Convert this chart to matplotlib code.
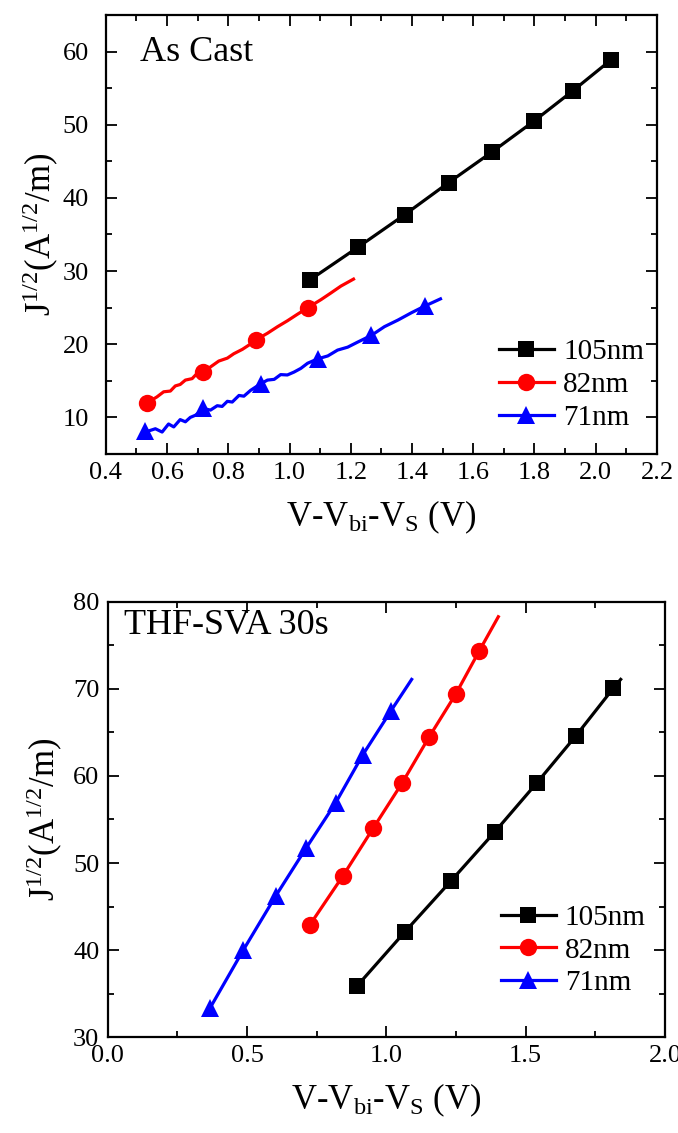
import matplotlib
matplotlib.use("Agg")
import matplotlib.pyplot as plt
from matplotlib.lines import Line2D
from matplotlib.ticker import MultipleLocator

plt.rcParams['font.family'] = ['Liberation Serif', 'DejaVu Serif']
plt.rcParams['mathtext.fontset'] = 'custom'
plt.rcParams['mathtext.rm'] = 'Liberation Serif'
plt.rcParams['mathtext.it'] = 'Liberation Serif'

labels = ['105nm', '82nm', '71nm']
colors = ['black', 'red', 'blue']
markers = ['s', 'o', '^']

# ---------------- Top panel: As Cast ----------------
top_105_x = [1.067, 1.225, 1.376, 1.520, 1.662, 1.797, 1.926, 2.051]
top_105_y = [28.8, 33.3, 37.7, 42.1, 46.3, 50.45, 54.66, 58.9]

top_82_line_x = [0.534, 0.567, 0.589, 0.611, 0.627, 0.643, 0.660, 0.682, 0.698, 0.717,
                 0.742, 0.769, 0.797, 0.818, 0.846, 0.868, 0.892, 0.928, 0.961, 0.993,
                 1.026, 1.059, 1.103, 1.135, 1.168, 1.209]
top_82_line_y = [11.96, 12.8, 13.5, 13.6, 14.3, 14.5, 15.1, 15.3, 16.0, 16.2,
                 16.9, 17.7, 18.1, 18.7, 19.3, 19.9, 20.64, 21.5, 22.4, 23.2,
                 24.1, 24.97, 26.1, 27.0, 27.95, 28.9]
top_82_mark_x = [0.534, 0.717, 0.892, 1.059]
top_82_mark_y = [11.96, 16.2, 20.64, 24.97]

top_71_line_x = [0.529, 0.562, 0.584, 0.605, 0.622, 0.643, 0.660, 0.676, 0.693, 0.720,
                 0.742, 0.764, 0.780, 0.797, 0.813, 0.835, 0.851, 0.873, 0.906, 0.928,
                 0.950, 0.971, 0.993, 1.015, 1.037, 1.059, 1.092, 1.125, 1.157, 1.190,
                 1.223, 1.267, 1.310, 1.354, 1.398, 1.441, 1.493]
top_71_line_y = [8.0, 8.45, 8.0, 9.1, 8.7, 9.7, 9.4, 10.0, 10.3, 11.2,
                 11.0, 11.6, 11.5, 12.2, 12.1, 13.0, 12.9, 13.7, 14.6, 15.1,
                 15.2, 15.85, 15.8, 16.2, 16.7, 17.4, 18.0, 18.4, 19.2, 19.6,
                 20.3, 21.2, 22.4, 23.3, 24.3, 25.2, 26.2]
top_71_mark_x = [0.529, 0.717, 0.906, 1.092, 1.267, 1.441]
top_71_mark_y = [8.1, 11.3, 14.5, 18.0, 21.3, 25.2]

# ---------------- Bottom panel: THF-SVA 30s ----------------
bot_105_mark_x = [0.896, 1.067, 1.231, 1.390, 1.540, 1.680, 1.815]
bot_105_mark_y = [35.9, 42.1, 47.9, 53.6, 59.2, 64.6, 70.1]
bot_105_line_x = [0.896, 1.067, 1.231, 1.390, 1.540, 1.680, 1.815, 1.841]
bot_105_line_y = [35.9, 42.1, 47.9, 53.6, 59.2, 64.6, 70.1, 71.1]

bot_82_mark_x = [0.726, 0.844, 0.953, 1.057, 1.153, 1.249, 1.334]
bot_82_mark_y = [42.9, 48.5, 54.0, 59.2, 64.45, 69.4, 74.4]
bot_82_line_x = [0.726, 0.844, 0.953, 1.057, 1.153, 1.249, 1.334, 1.402]
bot_82_line_y = [42.9, 48.5, 54.0, 59.2, 64.45, 69.4, 74.4, 78.3]

bot_71_mark_x = [0.367, 0.487, 0.603, 0.712, 0.818, 0.915, 1.017]
bot_71_mark_y = [33.3, 40.0, 46.2, 51.7, 56.9, 62.4, 67.5]
bot_71_line_x = [0.367, 0.487, 0.603, 0.712, 0.818, 0.915, 1.017, 1.091]
bot_71_line_y = [33.3, 40.0, 46.2, 51.7, 56.9, 62.4, 67.5, 71.1]

msizes = {'s': 11, 'o': 12.5, '^': 13.5}
LW = 2.3

fig = plt.figure(figsize=(6.78, 11.33), dpi=100)
ax1 = fig.add_axes([0.156, 0.5993, 0.813, 0.3875])
ax2 = fig.add_axes([0.1587, 0.0847, 0.8221, 0.384])


def style_axes(ax, ypad):
    for s in ax.spines.values():
        s.set_linewidth(1.6)
    ax.tick_params(which='both', direction='in', top=True, right=True,
                   labelsize=19, width=1.3)
    ax.tick_params(axis='x', which='both', pad=6)
    ax.tick_params(axis='y', which='both', pad=ypad)
    ax.tick_params(which='major', length=8)
    ax.tick_params(which='minor', length=4)


def draw(ax, lx, ly, mx, my, c, m, clip=True):
    ax.plot(lx, ly, color=c, lw=LW, clip_on=clip, solid_joinstyle='round')
    ax.plot(mx, my, linestyle='none', marker=m, color=c, ms=msizes[m],
            markeredgewidth=0, clip_on=clip)


# top
draw(ax1, top_105_x, top_105_y, top_105_x, top_105_y, 'black', 's')
draw(ax1, top_82_line_x, top_82_line_y, top_82_mark_x, top_82_mark_y, 'red', 'o')
draw(ax1, top_71_line_x, top_71_line_y, top_71_mark_x, top_71_mark_y, 'blue', '^')
ax1.set_xlim(0.4, 2.2)
ax1.set_ylim(5, 65)
ax1.xaxis.set_minor_locator(MultipleLocator(0.1))
ax1.yaxis.set_minor_locator(MultipleLocator(5))
ax1.set_xticks([0.4, 0.6, 0.8, 1.0, 1.2, 1.4, 1.6, 1.8, 2.0, 2.2])
ax1.set_xticklabels(['0.4', '0.6', '0.8', '1.0', '1.2', '1.4', '1.6', '1.8', '2.0', '2.2'])
ax1.set_yticks([10, 20, 30, 40, 50, 60])
style_axes(ax1, 12)
ax1.text(0.063, 0.914, 'As Cast', transform=ax1.transAxes, fontsize=26,
         ha='left', va='center')

# bottom
draw(ax2, bot_105_line_x, bot_105_line_y, bot_105_mark_x, bot_105_mark_y, 'black', 's')
draw(ax2, bot_82_line_x, bot_82_line_y, bot_82_mark_x, bot_82_mark_y, 'red', 'o', clip=False)
draw(ax2, bot_71_line_x, bot_71_line_y, bot_71_mark_x, bot_71_mark_y, 'blue', '^')
ax2.set_xlim(0.0, 2.0)
ax2.set_ylim(30, 80)
ax2.xaxis.set_minor_locator(MultipleLocator(0.25))
ax2.yaxis.set_minor_locator(MultipleLocator(5))
ax2.set_xticks([0.0, 0.5, 1.0, 1.5, 2.0])
ax2.set_xticklabels(['0.0', '0.5', '1.0', '1.5', '2.0'])
ax2.set_yticks([30, 40, 50, 60, 70, 80])
style_axes(ax2, 6)
ax2.text(0.03, 0.945, 'THF-SVA 30s', transform=ax2.transAxes, fontsize=26,
         ha='left', va='center')

xlab = r'V-V$_{\mathrm{bi}}$-V$_{\mathrm{S}}$ (V)'
ylab = r'J$^{1/2}$(A$^{1/2}$/m)'
ax1.set_xlabel(xlab, fontsize=25, labelpad=10)
ax1.set_ylabel(ylab, fontsize=25, labelpad=1)
ax2.set_xlabel(xlab, fontsize=25, labelpad=10)
ax2.set_ylabel(ylab, fontsize=25, labelpad=6)

handles = [Line2D([], [], color=c, lw=LW, marker=m, ms=msizes[m], markeredgewidth=0)
           for c, m in zip(colors, markers)]
ax1.legend(handles, labels, loc='upper left', bbox_to_anchor=(0.713, 0.262),
           frameon=False, fontsize=21, handlelength=1.9, handletextpad=0.3,
           labelspacing=0.22, borderpad=0, borderaxespad=0)
ax2.legend(handles, labels, loc='upper left', bbox_to_anchor=(0.705, 0.305),
           frameon=False, fontsize=21, handlelength=1.9, handletextpad=0.3,
           labelspacing=0.22, borderpad=0, borderaxespad=0)

fig.savefig('out.png', dpi=100)
